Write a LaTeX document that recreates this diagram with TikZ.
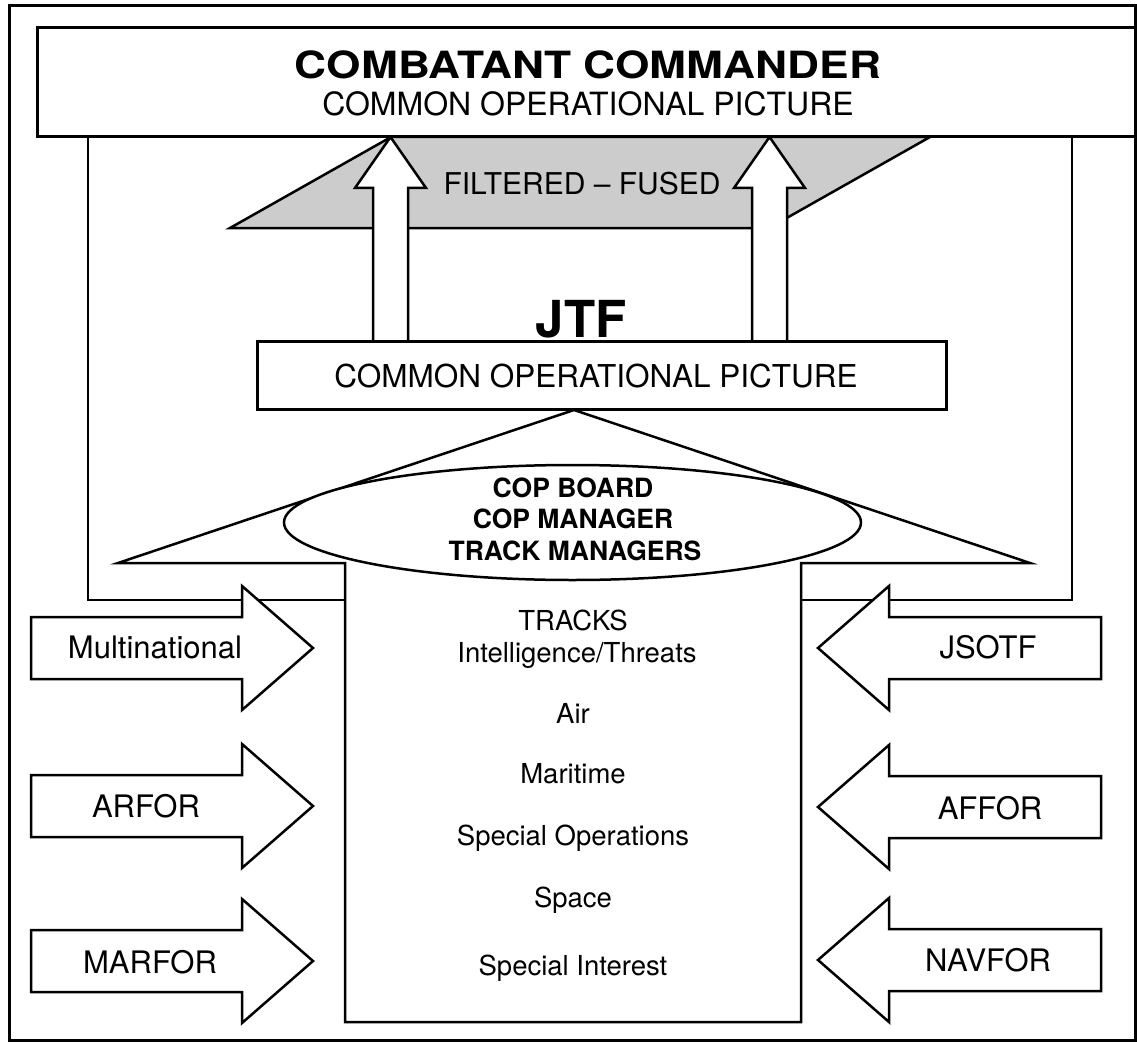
\documentclass[tikz,border=0pt]{standalone}
\usepackage{fontspec}
\setmainfont{TeX Gyre Heros}
\usepackage{graphicx}
\newcommand{\setfs}[1]{\fontsize{#1}{#1}\selectfont}
\newcommand{\arrRight}[1]{%
  \draw[blk] (31,#1-31) -- (242,#1-31) -- (242,#1-62) -- (313,#1) -- (242,#1+62) -- (242,#1+31) -- (31,#1+31) -- cycle;}
\newcommand{\arrLeft}[1]{%
  \draw[blk] (1101,#1-31) -- (889,#1-31) -- (889,#1-62) -- (818,#1) -- (889,#1+62) -- (889,#1+31) -- (1101,#1+31) -- cycle;}
\begin{document}
\begin{tikzpicture}[x=1pt,y=-1pt,
  frame/.style={draw,line width=3pt},
  box/.style={draw,line width=3pt,fill=white},
  blk/.style={draw,line width=2.5pt,fill=white,line join=miter},
  lbl/.style={anchor=base,inner sep=0pt},
  side/.style={lbl,font=\setfs{31}},
  trk/.style={lbl,font=\setfs{27.5}},
  cop/.style={lbl,font=\bfseries\setfs{26.5}}]
\useasboundingbox (0,0) rectangle (1137,1043);
% outer frame
\draw[frame] (9,6) rectangle (1135,1040);
% top box
\draw[box] (37,28) rectangle (1135,137);
\node[lbl] (cctitle) at (588,79) {\resizebox{586pt}{\height}{\bfseries\setfs{37.5}COMBATANT COMMANDER}};
\node[lbl,font=\setfs{32}] (cccop) at (588,116) {COMMON OPERATIONAL PICTURE};
% U frame
\draw[line width=2.5pt] (88,137) rectangle (1072,600);
% filtered fused parallelogram
\draw[line width=2.5pt,fill=black!20] (230,228) -- (391,137) -- (930,137) -- (769,228) -- cycle;
\node[lbl,font=\setfs{30}] (ff) at (582,194) {FILTERED -- FUSED};
% up arrows
\draw[blk] (373,341) -- (373,188) -- (355,188) -- (390.5,137) -- (426,188) -- (408,188) -- (408,341);
\draw[blk] (752,341) -- (752,188) -- (734,188) -- (769.5,137) -- (805,188) -- (787,188) -- (787,341);
% JTF
\node[lbl,font=\bfseries\setfs{51}] (jtf) at (581,337) {JTF};
\draw[box] (257,341) rectangle (946,409);
\node[lbl,font=\setfs{31.5}] (jtfcop) at (596,387) {COMMON OPERATIONAL PICTURE};
% big up arrow (column)
\draw[blk] (345,1022) -- (345,563) -- (118,563) -- (574,410) -- (1030,563) -- (801,563) -- (801,1022) -- cycle;
% ellipse
\draw[blk] (572.5,522.5) ellipse [x radius=288.5, y radius=57.5];
\node[cop] (cb) at (573,497) {COP BOARD};
\node[cop] (cm) at (573,528) {COP MANAGER};
\node[cop] (tm) at (575,560) {TRACK MANAGERS};
% column texts
\node[trk] (t1) at (573,630) {TRACKS};
\node[trk] (t2) at (577,662) {Intelligence/Threats};
\node[trk] (t3) at (573,723) {Air};
\node[trk] (t4) at (573,783) {Maritime};
\node[trk] (t5) at (573,845) {Special Operations};
\node[trk] (t6) at (573,907) {Space};
\node[trk] (t7) at (573,975) {Special Interest};
% side arrows
\arrRight{648}
\arrRight{806}
\arrRight{961}
\arrLeft{648}
\arrLeft{807}
\arrLeft{960}
\node[side] (mn) at (155,658) {Multinational};
\node[side] (ar) at (146,817) {ARFOR};
\node[side] (mf) at (150,973) {MARFOR};
\node[side] (js) at (988,658) {JSOTF};
\node[side] (af) at (990,819) {AFFOR};
\node[side] (nv) at (988,971) {NAVFOR};
\end{tikzpicture}
\end{document}
